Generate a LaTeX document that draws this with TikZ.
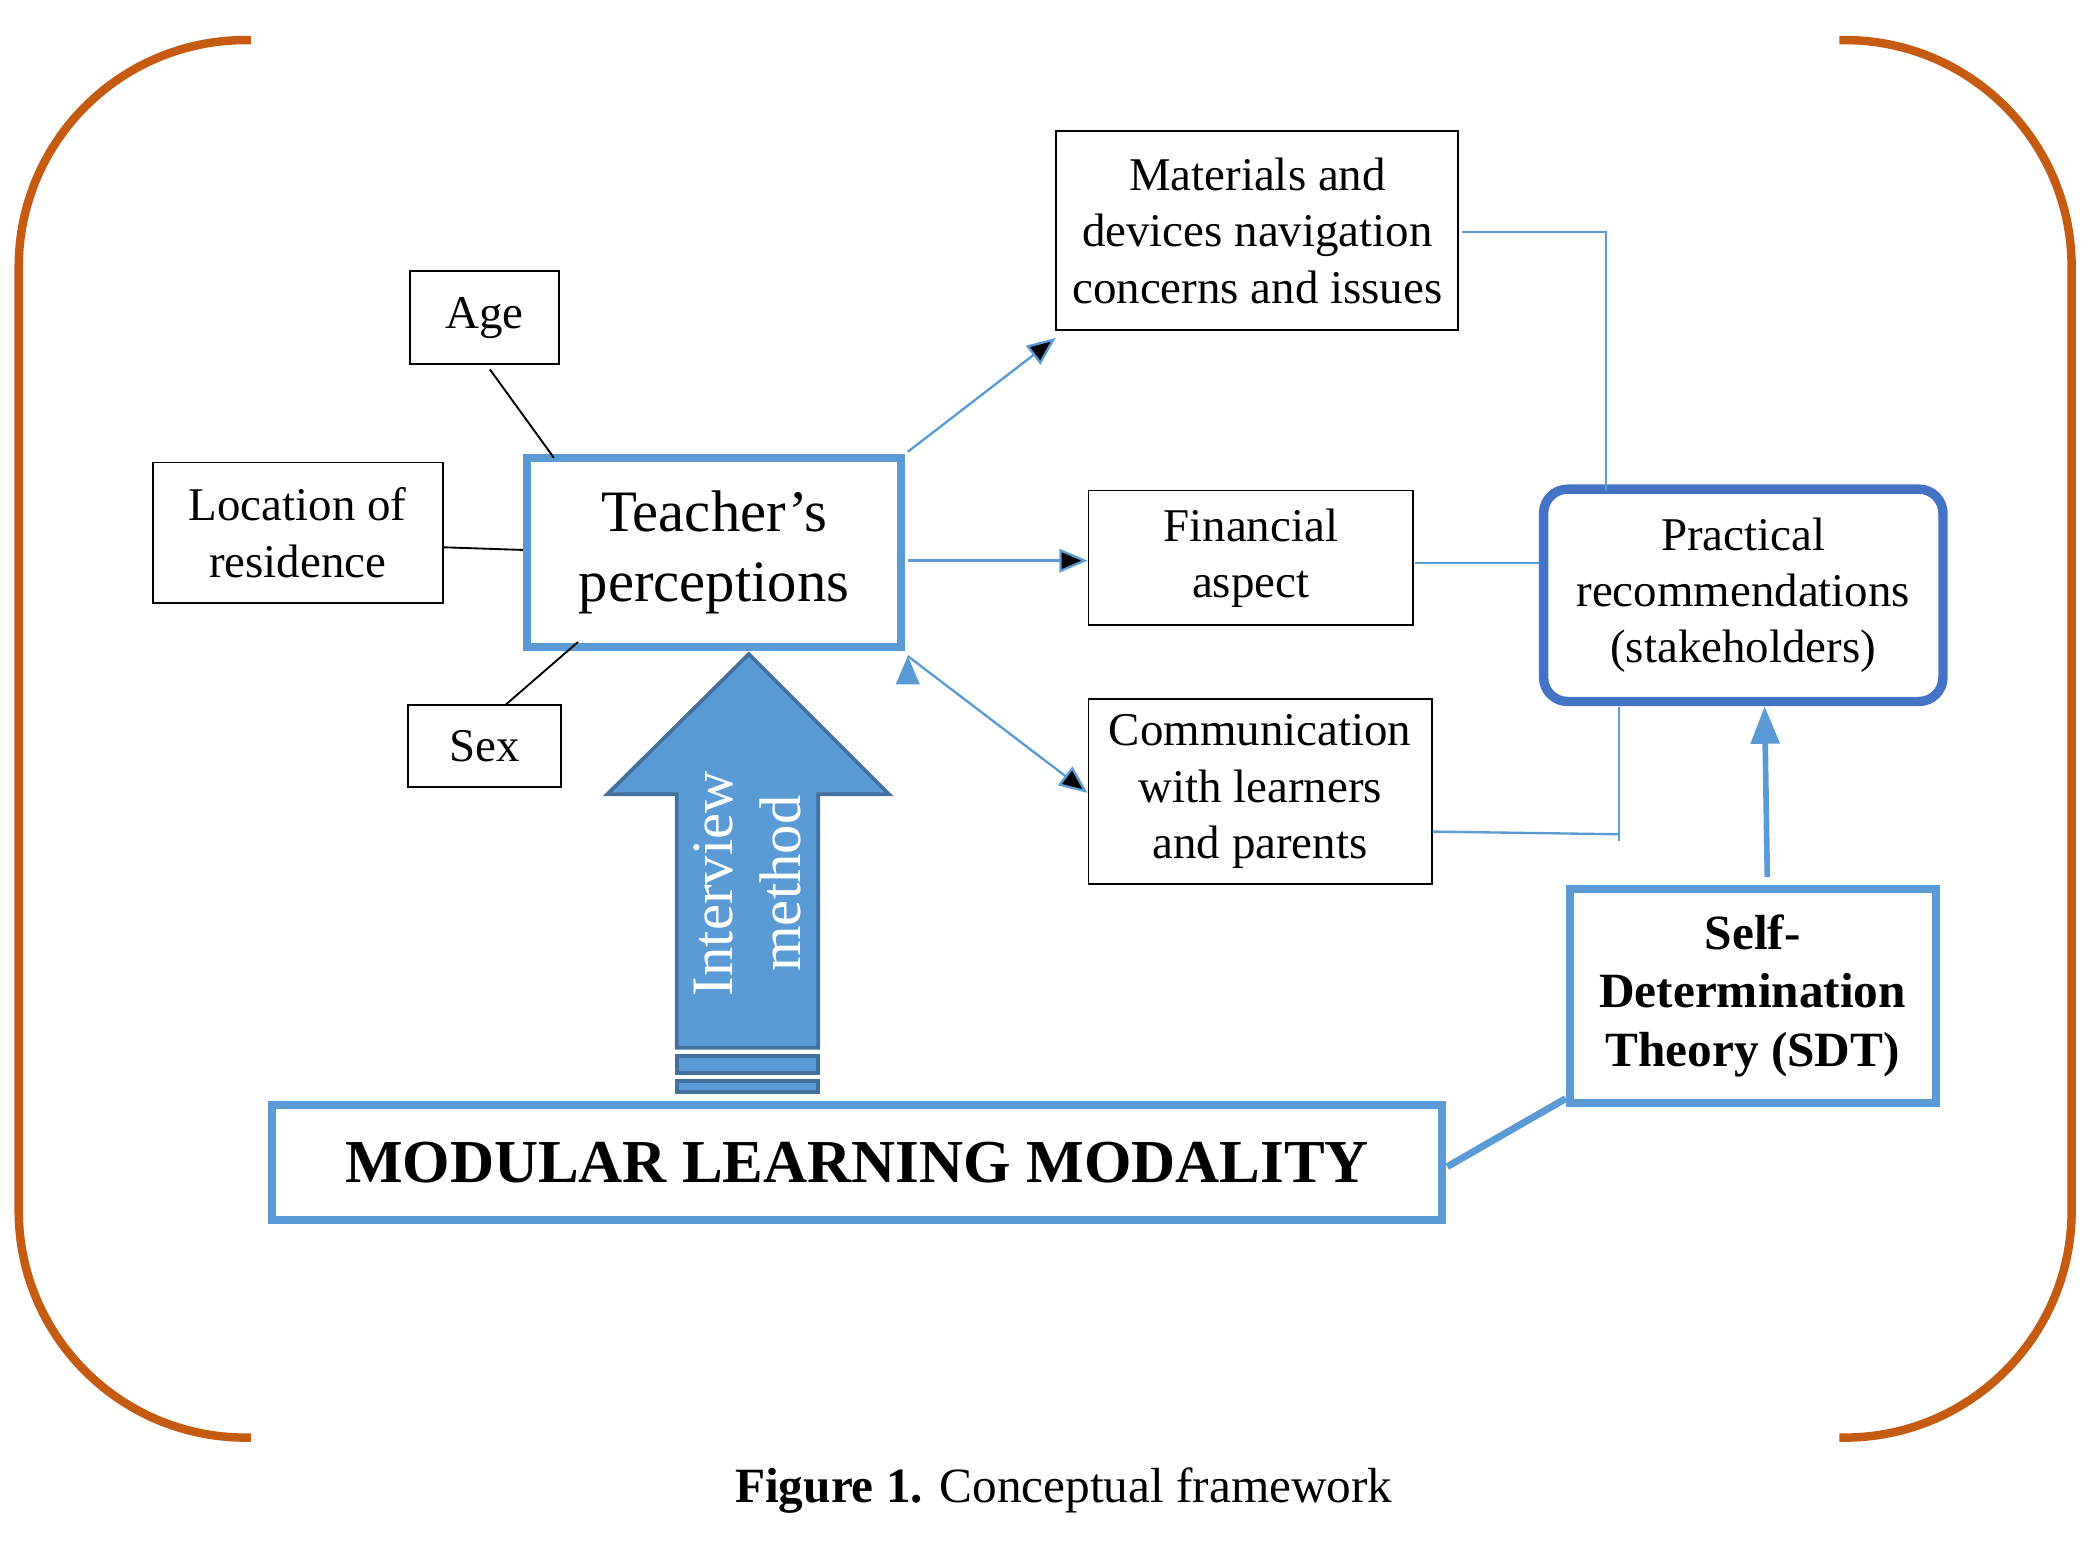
\documentclass[tikz,border=0pt]{standalone}
\usepackage{fontspec}
\setmainfont{Liberation Serif}
\usetikzlibrary{arrows.meta, positioning, calc}
\definecolor{bracket}{RGB}{197,90,17}
\definecolor{lblue}{RGB}{91,155,213}
\definecolor{dblue}{RGB}{68,114,196}
\definecolor{aline}{RGB}{65,113,156}
\begin{document}
\begin{tikzpicture}[x=0.01cm,y=-0.01cm]
    \tikzstyle{plain}=[draw,thin,align=center,inner sep=0pt,font=\fontsize{10}{12}\selectfont]
    \tikzstyle{bluebox}=[draw=lblue,line width=1.7pt,align=center,inner sep=0pt]
    \tikzstyle{link}=[draw=lblue,line width=0.5pt]
    \useasboundingbox (0,0) rectangle (1568,1154);

    % brackets
    \draw[bracket,line width=1.8pt,rounded corners=1.7cm] (188,30) -- (14,30) -- (14,1077) -- (188,1077);
    \draw[bracket,line width=1.8pt,rounded corners=1.7cm] (1378,30) -- (1552,30) -- (1552,1077) -- (1378,1077);

    % small boxes
    \node[plain,minimum width=1.12cm,minimum height=0.70cm] (age) at (363,238) {Age};
    \node[plain,minimum width=2.17cm,minimum height=1.05cm] (loc) at (223,399) {Location of\\residence};
    \node[plain,minimum width=1.14cm,minimum height=0.61cm] (sex) at (363,559) {Sex};
    \node[bluebox,minimum width=2.80cm,minimum height=1.41cm,font=\fontsize{12.5}{15}\selectfont] (tp) at (535,414) {Teacher’s\\perceptions};

    \node[plain,minimum width=3.01cm,minimum height=1.49cm] (mat) at (942,173) {Materials and\\devices navigation\\concerns and issues};
    \node[plain,minimum width=2.43cm,minimum height=1.01cm] (fin) at (937,418) {Financial\\aspect};
    \node[plain,minimum width=2.57cm,minimum height=1.39cm] (com) at (944,593) {Communication\\with learners\\and parents};

    \node[draw=dblue,line width=2pt,rounded corners=0.18cm,minimum width=2.99cm,minimum height=1.59cm,align=center,inner sep=0pt,font=\fontsize{10}{12}\selectfont] (prac) at (1306,446) {Practical\\recommendations\\(stakeholders)};
    \node[bluebox,minimum width=2.74cm,minimum height=1.60cm,font=\bfseries\fontsize{10.5}{12.5}\selectfont] (sdt) at (1313,746) {Self-\\Determination\\Theory (SDT)};
    \node[bluebox,minimum width=8.76cm,minimum height=0.86cm,font=\bfseries\fontsize{13}{15}\selectfont] (mlm) at (642,871) {MODULAR LEARNING MODALITY};

    % interview arrow
    \draw[aline,fill=lblue,line width=0.8pt] (507,785) -- (507,595) -- (455,595) -- (561,490) -- (666,595) -- (613,595) -- (613,785) -- cycle;
    \draw[aline,fill=lblue,line width=0.8pt] (507,791) rectangle (613,804);
    \draw[aline,fill=lblue,line width=0.8pt] (507,810) rectangle (613,818);
    \node[rotate=90,white,align=center,font=\fontsize{12.5}{14.5}\selectfont] (iv) at (560,662) {Interview\\method};

    % attribute lines
    \draw[thin] ($(age.south)+(4,3)$) -- (415,343);
    \draw[thin] ($(loc.east)+(0,11)$) -- ($(tp.west)+(0,-2)$);
    \draw[thin] ($(sex.north)+(16,0)$) -- (433,481);

    % perception arrows
    \path[link,-{Triangle[length=6pt,width=5pt]}]
    ($(tp.north east)+(2,-2)$) edge ($(mat.south west)+(0,5)$)
    ($(tp.east)+(2,6)$) edge ($(fin.west)+(0,2)$)
    ($(tp.south east)+(2,4)$) edge ($(com.west)+(0,1)$);

    % to recommendations
    \draw[link] ($(mat.east)+(2,1)$) -| (1203,368);
    \draw[link] ($(fin.east)+(1,4)$) -- ($(prac.west)+(0,-24)$);
    \draw[link] ($(com.east)+(0,30)$) -- (1213,625);
    \draw[link] (1213,530) -- (1213,630);
    \draw[draw=lblue,line width=1.2pt,-{Triangle[length=8pt,width=6pt]}] ($(sdt.north)+(11,-6)$) -- ($(prac.south)+(16,0)$);
    \draw[draw=lblue,line width=1.5pt] ($(mlm.east)+(1,3)$) -- ($(sdt.south west)+(0,-6)$);

    \node[font=\fontsize{10.5}{12}\selectfont] (cap) at (797,1117) {\textbf{Figure 1.} Conceptual framework};
\end{tikzpicture}
\end{document}
